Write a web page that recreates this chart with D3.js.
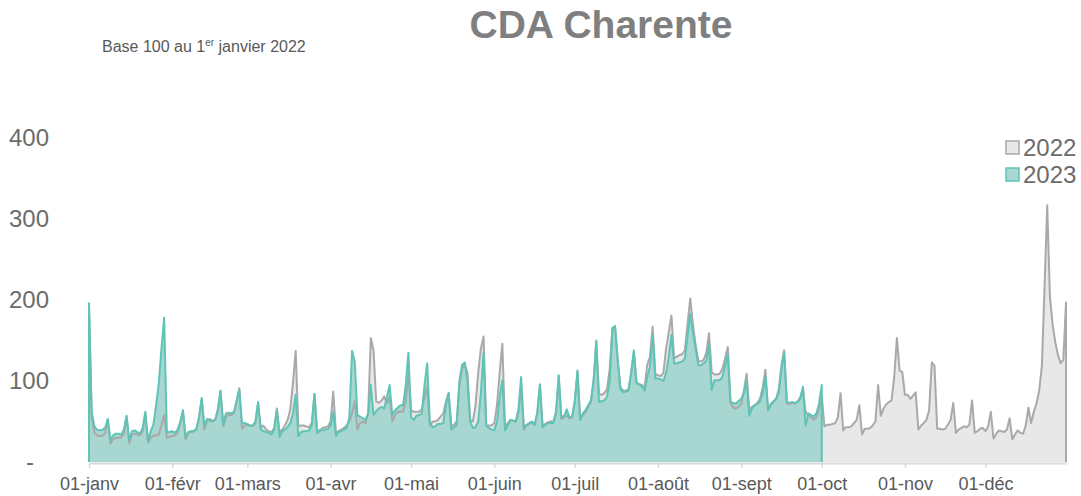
<!DOCTYPE html>
<html>
<head>
<meta charset="utf-8">
<script src="https://cdn.jsdelivr.net/npm/d3@7"></script>
<style>
  body { margin: 0; background: #fff; }
  svg { font-family: 'Liberation Sans', Arial, sans-serif; }
</style>
</head>
<body>
<div id="chart"></div>
<script>
// daily index, base 100 au 1er janvier 2022
const values2022 = [
  190, 55, 36, 33, 32, 32, 36, 52, 23, 28, 30, 30, 30, 35,
  56, 23, 34, 35, 34, 33, 38, 60, 24, 30, 32, 33, 34, 45,
  58, 30, 31, 32, 33, 36, 48, 62, 28, 36, 37, 38, 40, 55,
  78, 40, 52, 53, 51, 52, 62, 88, 44, 56, 58, 58, 60, 75,
  91, 41, 45, 46, 45, 44, 48, 72, 42, 45, 40, 38, 37, 42,
  66, 37, 40, 45, 52, 65, 98, 137, 44, 45, 45, 44, 43, 48,
  84, 36, 38, 42, 43, 44, 50, 87, 36, 38, 40, 42, 45, 50,
  60, 75, 40, 48, 50, 48, 60, 153, 138, 75, 73, 76, 81, 72,
  80, 50, 58, 62, 62, 62, 75, 110, 64, 62, 62, 62, 65, 80,
  93, 45, 50, 50, 52, 56, 60, 75, 85, 44, 46, 50, 95, 115,
  120, 110, 52, 50, 70, 110, 140, 155, 45, 45, 45, 48, 70, 110,
  146, 43, 48, 52, 51, 50, 60, 95, 40, 45, 47, 49, 46, 60,
  95, 43, 47, 49, 50, 50, 62, 105, 53, 55, 58, 54, 55, 75,
  112, 52, 58, 62, 68, 74, 100, 150, 84, 83, 85, 90, 115, 165,
  165, 125, 92, 88, 88, 90, 110, 134, 98, 96, 95, 92, 120, 130,
  167, 109, 107, 106, 110, 140, 160, 181, 128, 130, 132, 133, 138, 170,
  202, 170, 145, 125, 124, 126, 135, 159, 111, 108, 108, 109, 115, 128,
  142, 74, 67, 66, 68, 72, 88, 109, 64, 68, 70, 73, 78, 92,
  114, 64, 70, 74, 78, 90, 120, 138, 72, 72, 73, 72, 75, 80,
  90, 62, 58, 55, 52, 55, 66, 82, 44, 46, 46, 47, 48, 55,
  85, 39, 43, 43, 44, 48, 52, 70, 34, 41, 41, 42, 45, 50,
  95, 57, 66, 71, 74, 76, 105, 153, 113, 111, 83, 83, 78, 82,
  86, 40, 45, 48, 52, 64, 123, 119, 41, 41, 40, 41, 46, 52,
  73, 36, 40, 42, 44, 43, 46, 76, 36, 38, 41, 42, 38, 44,
  62, 29, 35, 39, 38, 37, 40, 54, 28, 34, 39, 36, 35, 45,
  67, 48, 62, 72, 88, 118, 215, 317, 205, 170, 148, 132, 122, 126,
  197
]

const values2023 = [
  196, 62, 44, 40, 39, 40, 42, 53, 27, 33, 35, 35, 34, 40,
  57, 27, 38, 39, 37, 35, 42, 62, 25, 38, 46, 70, 97, 140,
  178, 37, 37, 38, 36, 40, 50, 64, 31, 37, 38, 38, 41, 55,
  79, 44, 53, 51, 50, 52, 65, 88, 46, 60, 61, 60, 62, 75,
  89, 48, 48, 47, 45, 45, 50, 74, 40, 38, 37, 36, 34, 40,
  64, 31, 38, 40, 43, 48, 60, 83, 32, 37, 38, 38, 39, 45,
  84, 36, 40, 39, 40, 41, 45, 62, 32, 37, 38, 40, 42, 55,
  137, 124, 58, 56, 54, 52, 60, 95, 58, 63, 66, 68, 66, 80,
  95, 58, 64, 67, 70, 70, 95, 135, 55, 52, 57, 58, 60, 95,
  122, 48, 43, 44, 47, 47, 48, 70, 85, 40, 43, 46, 100, 120,
  123, 100, 50, 42, 43, 50, 85, 135, 45, 42, 40, 39, 50, 80,
  101, 39, 45, 52, 51, 50, 65, 105, 42, 46, 48, 50, 46, 60,
  96, 43, 46, 48, 48, 48, 60, 107, 55, 57, 65, 55, 56, 75,
  113, 52, 60, 64, 70, 76, 100, 149, 74, 75, 76, 80, 100, 165,
  168, 125, 90, 86, 87, 88, 110, 138, 97, 96, 93, 88, 105, 118,
  157, 103, 103, 102, 100, 110, 130, 157, 122, 122, 123, 124, 128, 155,
  183, 160, 140, 120, 119, 122, 125, 146, 89, 101, 101, 101, 105, 120,
  132, 74, 73, 72, 75, 78, 85, 101, 57, 66, 70, 72, 75, 85,
  105, 64, 72, 75, 78, 85, 115, 135, 74, 73, 74, 73, 74, 78,
  93, 45, 60, 58, 56, 60, 72, 95
]

const monthLabels = ['01-janv', '01-févr', '01-mars', '01-avr', '01-mai', '01-juin',
  '01-juil', '01-août', '01-sept', '01-oct', '01-nov', '01-déc']
const yTicks = [0, 100, 200, 300, 400]
const seriesNames = ['2022', '2023']

const width = 1081
const height = 496

const colors = {
  '2022': { line: '#a9a9a9', fill: '#e8e8e8' },
  '2023': { line: '#5ec4b6', fill: '#a8d6d1' }
}

const start = new Date(Date.UTC(2022, 0, 1))
const end = new Date(Date.UTC(2022, 11, 31))

const svg = d3
  .select('#chart')
  .append('svg')
  .attr('width', width)
  .attr('height', height)

const x = d3.scaleUtc().domain([start, end]).range([89, 1066])
const y = d3.scaleLinear().domain([0, 400]).range([462, 138])

const toPoints = vals => vals.map((v, i) => [d3.utcDay.offset(start, i), v])
const series = [
  { name: '2022', points: toPoints(values2022) },
  { name: '2023', points: toPoints(values2023) }
]

const area = d3
  .area()
  .x(d => x(d[0]))
  .y0(y(0))
  .y1(d => y(d[1]))

// outline closes down to zero at both ends, like the excel border
const line = d3
  .line()
  .x(d => x(d[0]))
  .y(d => y(d[1]))
const outline = pts => [[pts[0][0], 0], ...pts, [pts[pts.length - 1][0], 0]]

series.forEach(s => {
  svg
    .append('path')
    .datum(s.points)
    .attr('d', area)
    .attr('fill', colors[s.name].fill)
})

series.forEach(s => {
  svg
    .append('path')
    .datum(outline(s.points))
    .attr('d', line)
    .attr('fill', 'none')
    .attr('stroke', colors[s.name].line)
    .attr('stroke-width', 2)
    .attr('stroke-linejoin', 'round')
})

// x axis
const xAxis = svg
  .append('g')
  .attr('transform', 'translate(0,463)')
  .call(
    d3
      .axisBottom(x)
      .tickValues(d3.utcMonth.range(start, end))
      .tickFormat((d, i) => monthLabels[i])
      .tickSize(5)
      .tickSizeOuter(0)
      .tickPadding(9)
  )
xAxis.select('.domain').attr('stroke', '#d9d9d9').attr('stroke-width', 2)
xAxis.selectAll('.tick line').attr('stroke', '#d9d9d9').attr('stroke-width', 1.5)
xAxis
  .selectAll('.tick text')
  .attr('fill', '#595959')
  .attr('font-size', 18)
  .attr('font-family', "'Liberation Sans', Arial, sans-serif")

// y axis
const yAxis = svg
  .append('g')
  .attr('transform', 'translate(49,0)')
  .call(
    d3
      .axisLeft(y)
      .tickValues(yTicks)
      .tickFormat(d => (d === 0 ? '-' : d))
      .tickSize(0)
      .tickPadding(0)
  )
yAxis.select('.domain').remove()
yAxis
  .selectAll('.tick text')
  .attr('fill', '#6b6b6b')
  .attr('font-size', 24)
  .attr('font-family', "'Liberation Sans', Arial, sans-serif")
yAxis
  .selectAll('.tick')
  .filter(d => d === 0)
  .select('text')
  .attr('x', -15)

// title
svg
  .append('text')
  .attr('x', 601)
  .attr('y', 38)
  .attr('text-anchor', 'middle')
  .attr('font-size', 39)
  .attr('font-weight', 'bold')
  .attr('fill', '#7f7f7f')
  .text('CDA Charente')

const sub = svg
  .append('text')
  .attr('x', 102)
  .attr('y', 52)
  .attr('font-size', 16)
  .attr('fill', '#595959')
sub.append('tspan').text('Base 100 au 1')
sub
  .append('tspan')
  .attr('dy', -6)
  .attr('font-size', 10)
  .text('er')
sub.append('tspan').attr('dy', 6).text(' janvier 2022')

// legend
const legend = svg
  .selectAll('.legend')
  .data(seriesNames)
  .enter()
  .append('g')
  .attr('class', 'legend')
  .attr('transform', (d, i) => `translate(1006,${141 + i * 27})`)

legend
  .append('rect')
  .attr('width', 13)
  .attr('height', 13)
  .attr('fill', d => colors[d].fill)
  .attr('stroke', d => colors[d].line)
  .attr('stroke-width', 1.5)

legend
  .append('text')
  .attr('x', 17)
  .attr('y', 6.5)
  .attr('dy', '0.35em')
  .attr('font-size', 24)
  .attr('fill', '#6b6b6b')
  .text(d => d)
</script>
</body>
</html>
